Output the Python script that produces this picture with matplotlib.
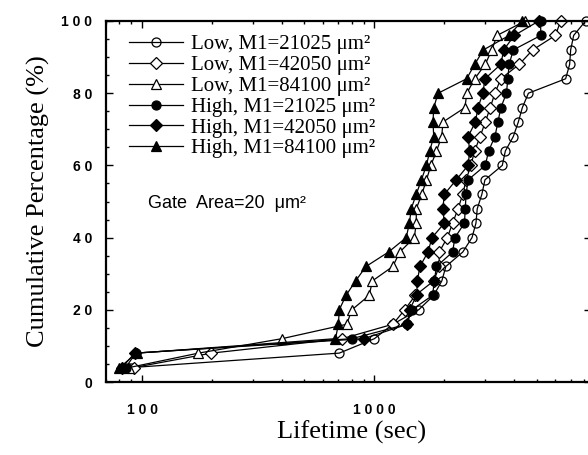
import matplotlib
matplotlib.use("Agg")
import matplotlib.pyplot as plt
from matplotlib.ticker import MultipleLocator, LogLocator, NullFormatter, FixedLocator, FixedFormatter

# ---- data ----
cum_pct = [4, 8, 12, 16, 20, 24, 28, 32, 36, 40, 44, 48, 52, 56, 60, 64, 68, 72, 76, 80, 84, 88, 92, 96, 100]

low_21025 = [90, 706, 1000, 1200, 1550, 1800, 1950, 2030, 2400, 2630, 2735, 2770, 2900, 2990, 3550, 3660,
             3960, 4160, 4330, 4600, 6650, 6920, 6990, 7200, 8100]
low_42050 = [92, 199, 727, 1200, 1350, 1500, 1800, 1900, 1900, 2060, 2170, 2290, 2400, 2480, 2600, 2700,
             2850, 3000, 3150, 3300, 3500, 4200, 4800, 6010, 6330]
low_84100 = [88, 175, 400, 760, 800, 950, 980, 1200, 1285, 1485, 1514, 1514, 1600, 1675, 1750, 1850,
             1950, 1970, 2450, 2500, 2700, 3000, 3200, 3370, 4450]
high_21025 = [85, 94, 800, 1380, 1450, 1780, 1810, 1850, 2170, 2220, 2440, 2460, 2480, 2530, 3000, 3100,
              3300, 3400, 3500, 3700, 3750, 3800, 3960, 5200, 5190]
high_42050 = [82, 93, 900, 1386, 1416, 1520, 1530, 1570, 1700, 1770, 2000, 1970, 2000, 2250, 2530, 2570,
              2530, 2720, 2790, 2930, 2990, 3500, 3600, 4000, 5100]
high_84100 = [80, 95, 680, 700, 706, 755, 830, 920, 1150, 1370, 1415, 1440, 1514, 1593, 1675, 1730,
              1800, 1787, 1800, 1880, 2495, 2700, 2945, 3800, 4315]

labels = ["Low, M1=21025 \u03bcm\u00b2", "Low, M1=42050 \u03bcm\u00b2", "Low, M1=84100 \u03bcm\u00b2",
          "High, M1=21025 \u03bcm\u00b2", "High, M1=42050 \u03bcm\u00b2", "High, M1=84100 \u03bcm\u00b2"]

x_ticks = [100, 1000]
x_ticklabels = ["1 0 0", "1 0 0 0"]
y_ticks = [0, 20, 40, 60, 80, 100]
y_ticklabels = ["0", "2 0", "4 0", "6 0", "8 0", "1 0 0"]

annotation = "Gate  Area=20  \u03bcm\u00b2"
xlabel = "Lifetime (sec)"
ylabel = "Cumulative Percentage (%)"

# ---- figure ----
W, H = 588, 455
fig = plt.figure(figsize=(W / 100, H / 100), dpi=100)
ax = fig.add_axes([106 / W, 1 - 382 / H, (591 - 106) / W, 361 / H])

series = [low_21025, low_42050, low_84100, high_21025, high_42050, high_84100]
styles = [
    dict(marker="o", mfc="none", ms=6.5),
    dict(marker="D", mfc="white", ms=5.8),
    dict(marker="^", mfc="white", ms=7),
    dict(marker="o", mfc="black", ms=6.5),
    dict(marker="D", mfc="black", ms=5.8),
    dict(marker="^", mfc="black", ms=7),
]
for data, st, lab in zip(series, styles, labels):
    ax.plot(data, cum_pct, color="black", lw=0.9, mec="black", mew=0.9, label=lab,
            clip_on=False, **st)

ax.set_xscale("log")
ax.set_xlim(70, 8550)
ax.set_ylim(0, 100)

ax.xaxis.set_major_locator(FixedLocator(x_ticks))
ax.xaxis.set_major_formatter(FixedFormatter(x_ticklabels))
ax.xaxis.set_minor_locator(LogLocator(base=10, subs=range(2, 10)))
ax.xaxis.set_minor_formatter(NullFormatter())
ax.yaxis.set_major_locator(FixedLocator(y_ticks))
ax.yaxis.set_major_formatter(FixedFormatter(y_ticklabels))
ax.yaxis.set_minor_locator(MultipleLocator(5))

ax.tick_params(which="both", direction="in", top=True, right=True, width=1.0)
ax.tick_params(which="major", length=5)
ax.tick_params(which="minor", length=2.5)
ax.tick_params(axis="x", which="major", pad=15)
ax.tick_params(axis="y", which="major", pad=10)
for lab in ax.get_xticklabels() + ax.get_yticklabels():
    lab.set_fontfamily("Liberation Sans")
    lab.set_fontweight("bold")
    lab.set_fontsize(10)

for sp in ax.spines.values():
    sp.set_linewidth(1.6)

ax.set_xlabel(xlabel, fontfamily="Liberation Serif", fontsize=19)
ax.set_ylabel(ylabel, fontfamily="Liberation Serif", fontsize=19)
ax.xaxis.set_label_coords((352 - 106) / 485, (382 - 421) / 361)
ax.yaxis.set_label_coords((50 - 106) / 485, 0.5)

ax.text(106, 49.5, annotation, fontfamily="Liberation Sans", fontsize=13, va="center", ha="left")

leg = ax.legend(loc="upper left", bbox_to_anchor=(0.048, 0.962), frameon=False,
                prop=dict(family="Liberation Serif", size=15), labelspacing=0.06,
                handlelength=2.6, handletextpad=0.35, borderpad=0, borderaxespad=0)

fig.savefig("out.png", dpi=100)
